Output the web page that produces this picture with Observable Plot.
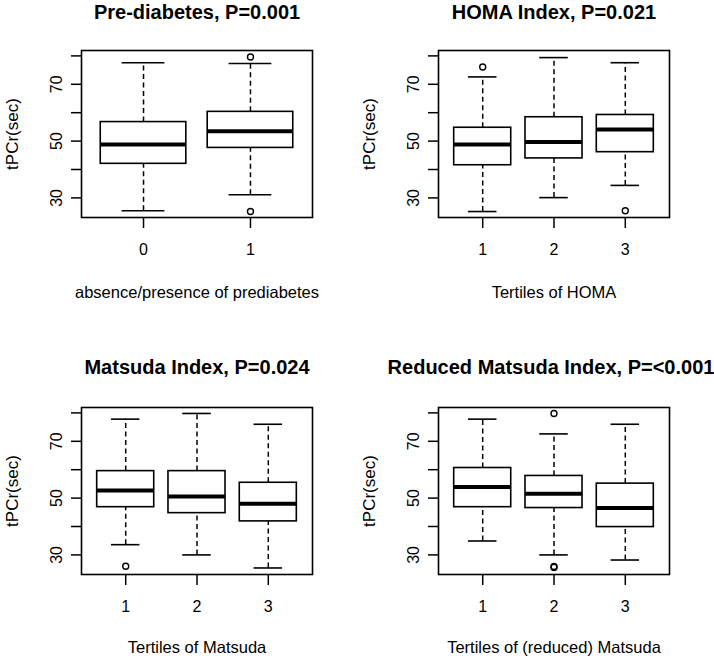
<!DOCTYPE html>
<html>
<head>
<meta charset="utf-8">
<script src="https://cdn.jsdelivr.net/npm/d3@7"></script>
<script src="https://cdn.jsdelivr.net/npm/@observablehq/plot@0.6"></script>
<style>
  html, body { margin: 0; padding: 0; background: #fff; }
  #chart { position: relative; width: 714px; height: 660px; overflow: hidden; }
  #chart > div { position: absolute; width: 357px; height: 330px; }
  #chart svg { overflow: visible; }
</style>
</head>
<body>
<div id="chart"></div>
<script>
// ---- data ----
const titles = ["Pre-diabetes, P=0.001", "HOMA Index, P=0.021", "Matsuda Index, P=0.024", "Reduced Matsuda Index, P=<0.001"];
const xTitles = ["absence/presence of prediabetes", "Tertiles of HOMA", "Tertiles of Matsuda", "Tertiles of (reduced) Matsuda"];
const yTitle = "tPCr(sec)";
const categories = [["0", "1"], ["1", "2", "3"], ["1", "2", "3"], ["1", "2", "3"]];
const lowerWhisker = [[25.5, 31.1], [25.2, 30.1, 34.4], [33.6, 30.0, 25.4], [34.9, 30.0, 28.2]];
const q1 = [[42.0, 47.6], [41.5, 43.9, 46.1], [46.8, 44.7, 41.8], [46.8, 46.5, 39.8]];
const medians = [[48.8, 53.5], [48.8, 49.7, 54.1], [52.7, 50.6, 48.0], [53.9, 51.5, 46.5]];
const q3 = [[56.7, 60.3], [54.7, 58.4, 59.2], [59.5, 59.5, 55.4], [60.6, 57.8, 55.1]];
const upperWhisker = [[77.6, 77.3], [72.6, 79.4, 77.6], [77.8, 79.8, 76.0], [77.8, 72.6, 76.0]];
const outliers = [
  [[], [79.6, 25.2]],
  [[76.1], [], [25.5]],
  [[26.0], [], []],
  [[], [79.8, 25.6, 25.9], []]
];
const yTicks = [30, 40, 50, 60, 70, 80];
const yTickLabels = [30, 50, 70];
const yDomain = [23.1, 81.9];

// ---- layout ----
const font = "'Liberation Sans', Arial, sans-serif";
const panelPos = [[0, 0], [357, 0], [0, 330], [357, 330]];
const marginTops = [50, 50, 77, 77];
const marginBottoms = [113, 113, 86, 86];
const titleDy = [-37.5, -37.5, -40, -40];
const titleDx = [0, 0, 0, -3];
const xTitleDy = [75, 75, 73, 73];

const root = document.getElementById("chart");

titles.forEach((title, p) => {
  const n = categories[p].length;
  const stats = categories[p].map((c, i) => ({
    pos: i + 1, cat: c,
    lo: lowerWhisker[p][i], q1: q1[p][i], med: medians[p][i], q3: q3[p][i], hi: upperWhisker[p][i]
  }));
  const outs = outliers[p].flatMap((vals, i) => vals.map(v => ({pos: i + 1, value: v})));
  // R boxplot x range: 0.5..n+0.5 extended by 4%
  const ext = n * 0.04;
  const xDomain = [0.5 - ext, n + 0.5 + ext];

  const chart = Plot.plot({
    width: 357,
    height: 330,
    marginLeft: 81,
    marginRight: 45,
    marginTop: marginTops[p],
    marginBottom: marginBottoms[p],
    style: {fontFamily: font, color: "#000", background: "transparent", overflow: "visible"},
    x: {domain: xDomain},
    y: {domain: yDomain},
    marks: [
      // whiskers (dashed)
      Plot.ruleX(stats, {x: "pos", y1: "q3", y2: "hi", stroke: "#000", strokeWidth: 1.5, strokeDasharray: "5,3.5"}),
      Plot.ruleX(stats, {x: "pos", y1: "lo", y2: "q1", stroke: "#000", strokeWidth: 1.5, strokeDasharray: "5,3.5"}),
      // staples
      Plot.ruleY(stats, {y: "hi", x1: d => d.pos - 0.2, x2: d => d.pos + 0.2, stroke: "#000", strokeWidth: 1.6}),
      Plot.ruleY(stats, {y: "lo", x1: d => d.pos - 0.2, x2: d => d.pos + 0.2, stroke: "#000", strokeWidth: 1.6}),
      // boxes
      Plot.rect(stats, {x1: d => d.pos - 0.4, x2: d => d.pos + 0.4, y1: "q1", y2: "q3", fill: "#fff", stroke: "#000", strokeWidth: 1.6}),
      // medians
      Plot.ruleY(stats, {y: "med", x1: d => d.pos - 0.4, x2: d => d.pos + 0.4, stroke: "#000", strokeWidth: 4}),
      // outliers
      Plot.dot(outs, {x: "pos", y: "value", r: 3, stroke: "#000", strokeWidth: 1.4, fill: "none"}),
      Plot.frame({stroke: "#000", strokeWidth: 1.6}),
      Plot.axisY({
        ticks: yTicks,
        tickFormat: d => yTickLabels.includes(d) ? String(d) : "",
        tickSize: 10, tickPadding: 10, tickRotate: -90, fontSize: 16, label: null, strokeWidth: 1.5
      }),
      Plot.axisX({
        ticks: stats.map(d => d.pos),
        tickFormat: d => categories[p][d - 1],
        tickSize: 11, tickPadding: 15, fontSize: 16, label: null, strokeWidth: 1.5
      }),
      Plot.text([title], {frameAnchor: "top", dy: titleDy[p], dx: titleDx[p], textAnchor: "middle", lineAnchor: "middle", fontSize: 20, fontWeight: "bold", fill: "#000"}),
      Plot.text([xTitles[p]], {frameAnchor: "bottom", dy: xTitleDy[p], textAnchor: "middle", lineAnchor: "middle", fontSize: 16.5, fill: "#000"}),
      Plot.text([yTitle], {frameAnchor: "left", dx: -68.5, rotate: -90, textAnchor: "middle", lineAnchor: "middle", fontSize: 17, fill: "#000"})
    ]
  });
  const wrap = document.createElement("div");
  wrap.style.left = panelPos[p][0] + "px";
  wrap.style.top = panelPos[p][1] + "px";
  wrap.appendChild(chart);
  root.appendChild(wrap);
});
</script>
</body>
</html>
